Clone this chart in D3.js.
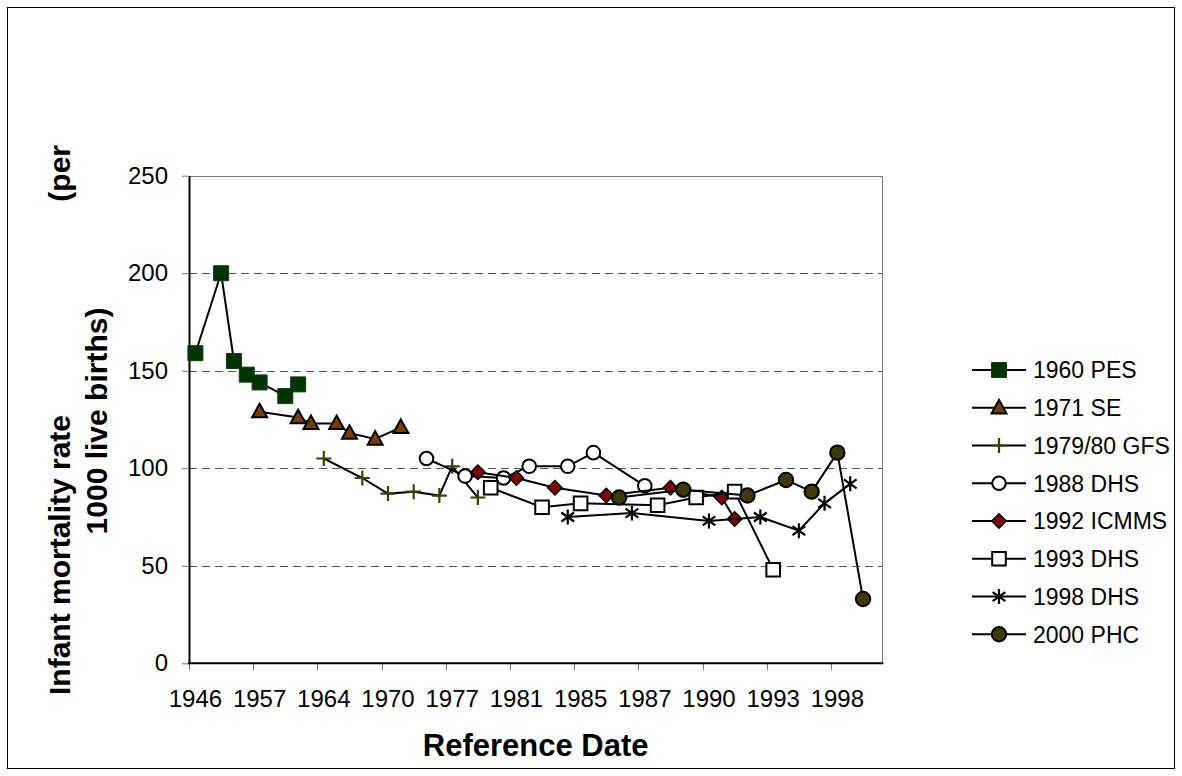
<!DOCTYPE html>
<html><head><meta charset="utf-8">
<script src="https://cdn.jsdelivr.net/npm/d3@7"></script>
<style>
body{margin:0;background:#fff}
svg{display:block}
text{font-family:"Liberation Sans",Arial,sans-serif;fill:#000}
</style>
</head><body>
<svg id="chart" width="1182" height="776"></svg>
<script>
// ---- data ----
const categoryCount = 54;
const tickLabels = ["1946","1957","1964","1970","1977","1981","1985","1987","1990","1993","1998"];
const tickLabelIndex = [0,5,10,15,20,25,30,35,40,45,50];
const yTicks = [0,50,100,150,200,250];

const seriesNames = ["1960 PES","1971 SE","1979/80 GFS","1988 DHS","1992 ICMMS","1993 DHS","1998 DHS","2000 PHC"];

const pes1960Index = [0,2,3,4,5,7,8];
const pes1960Value = [159,200,155,148,144,137,143];
const se1971Index = [5,8,9,11,12,14,16];
const se1971Value = [129,126,123,123,118,115,121];
const gfs1979Index = [10,13,15,17,19,20,22];
const gfs1979Value = [105,95,87,88,86,101,85];
const dhs1988Index = [18,21,24,26,29,31,35];
const dhs1988Value = [105,96,95,101,101,108,91];
const icmms1992Index = [22,25,28,32,37,41,42];
const icmms1992Value = [98,95,90,86,90,85,74];
const dhs1993Index = [23,27,30,36,39,42,45];
const dhs1993Value = [90,80,82,81,85,88,48];
const dhs1998Index = [29,34,40,44,47,49,51];
const dhs1998Value = [75,77,73,75,68,82,92];
const phc2000Index = [33,38,43,46,48,50,52];
const phc2000Value = [85,89,86,94,88,108,33];

const seriesIndex = [pes1960Index,se1971Index,gfs1979Index,dhs1988Index,icmms1992Index,dhs1993Index,dhs1998Index,phc2000Index];
const seriesValue = [pes1960Value,se1971Value,gfs1979Value,dhs1988Value,icmms1992Value,dhs1993Value,dhs1998Value,phc2000Value];

// ---- styles ----
const markerStyle = [
  {type:"square", fill:"#003300", stroke:"#0d3d0d", size:7.5, sw:1},
  {type:"triangle", fill:"#7a3c05", stroke:"#000", size:7.5, sw:2},
  {type:"plus", fill:"none", stroke:"#3d3d08", size:7.5, sw:2.2},
  {type:"circle", fill:"#fff", stroke:"#000", size:6.8, sw:2},
  {type:"diamond", fill:"#800000", stroke:"#000", size:7.2, sw:1.5},
  {type:"square", fill:"#fff", stroke:"#000", size:6.8, sw:2},
  {type:"star", fill:"none", stroke:"#000", size:7.5, sw:2.2},
  {type:"circle", fill:"#3a3a0a", stroke:"#000", size:7.2, sw:2}
];

function markerPath(type, h){
  switch(type){
    case "square": return `M${-h},${-h}H${h}V${h}H${-h}Z`;
    case "triangle": return `M0,${-h*1.05}L${h},${h*0.75}L${-h},${h*0.75}Z`;
    case "diamond": return `M0,${-h}L${h},0L0,${h}L${-h},0Z`;
    case "plus": return `M${-h},0H${h}M0,${-h}V${h}`;
    case "star": return `M0,${-h}V${h}M${-h*0.85},${-h*0.6}L${h*0.85},${h*0.6}M${-h*0.85},${h*0.6}L${h*0.85},${-h*0.6}`;
    case "circle": return d3.arc()({innerRadius:0,outerRadius:h,startAngle:0,endAngle:2*Math.PI});
  }
}

const svg = d3.select("#chart");
const L = 189, R = 882.3, T = 175.7, B = 663.3;

const x = d3.scaleBand().domain(d3.range(categoryCount)).range([L, R]).paddingInner(0).paddingOuter(0);
const y = d3.scaleLinear().domain([0,250]).range([B, T]);
const cx = i => x(i) + x.bandwidth()/2;

// outer border
svg.append("rect").attr("x",7.5).attr("y",7.5).attr("width",1167).attr("height",761)
  .attr("fill","none").attr("stroke","#000").attr("stroke-width",1);

// gridlines
svg.append("g").selectAll("line").data(yTicks.filter(d=>d>0 && d<250)).join("line")
  .attr("x1",L).attr("x2",R).attr("y1",d=>Math.round(y(d))+0.5).attr("y2",d=>Math.round(y(d))+0.5)
  .attr("stroke","#555").attr("stroke-width",1).attr("stroke-dasharray","8,5");

// plot border top/right
svg.append("path").attr("d",`M${L},${Math.round(T)+0.5}H${Math.round(R)+0.5}V${B}`)
  .attr("fill","none").attr("stroke","#777").attr("stroke-width",1);

// y axis
const yAxis = d3.axisLeft(y).tickValues(yTicks).tickSize(7).tickPadding(14).tickSizeOuter(0);
const gy = svg.append("g").attr("transform",`translate(${L},0)`).call(yAxis);
gy.select(".domain").attr("stroke","#000").attr("stroke-width",2);
gy.selectAll(".tick line").attr("stroke","#777");
gy.selectAll("text").attr("font-size",24).attr("font-family","Liberation Sans, Arial, sans-serif");

// x axis labels
const xAxis = d3.axisBottom(x).tickValues(tickLabelIndex).tickFormat((d,i)=>tickLabels[i]).tickSize(0).tickPadding(27).tickSizeOuter(0);
const gx = svg.append("g").attr("transform",`translate(0,${B})`).call(xAxis);
gx.select(".domain").remove();
gx.selectAll("text").attr("font-size",24).attr("font-family","Liberation Sans, Arial, sans-serif");
// x tick marks at category boundaries
svg.append("g").selectAll("line").data(tickLabelIndex).join("line")
  .attr("x1",d=>Math.round(x(d))+0.5).attr("x2",d=>Math.round(x(d))+0.5)
  .attr("y1",B).attr("y2",B+7).attr("stroke","#777").attr("stroke-width",1);
svg.append("line").attr("x1",L-1).attr("x2",R+1).attr("y1",B).attr("y2",B).attr("stroke","#000").attr("stroke-width",2);

// series
const line = d3.line().x(d=>cx(d[0])).y(d=>y(d[1]));
seriesNames.forEach((name, s)=>{
  const pts = seriesIndex[s].map((idx,k)=>[idx, seriesValue[s][k]]);
  const st = markerStyle[s];
  const g = svg.append("g");
  g.append("path").attr("d",line(pts)).attr("fill","none").attr("stroke","#000").attr("stroke-width",2);
  g.selectAll("path.m").data(pts).join("path").attr("class","m")
    .attr("transform",d=>`translate(${cx(d[0])},${y(d[1])})`)
    .attr("d",markerPath(st.type, st.size))
    .attr("fill",st.fill).attr("stroke",st.stroke).attr("stroke-width",st.sw);
});

// legend
const legendY = d3.scaleLinear().domain([0,7]).range([370,634.3]);
const lg = svg.append("g");
seriesNames.forEach((name,s)=>{
  const st = markerStyle[s];
  const yy = legendY(s);
  lg.append("line").attr("x1",972).attr("x2",1026).attr("y1",yy).attr("y2",yy).attr("stroke","#000").attr("stroke-width",2);
  lg.append("path").attr("transform",`translate(999,${yy})`).attr("d",markerPath(st.type, st.size))
    .attr("fill",st.fill).attr("stroke",st.stroke).attr("stroke-width",st.sw);
  lg.append("text").attr("x",1033).attr("y",yy).attr("dy","0.36em").attr("font-size",23).text(name);
});

// axis titles
svg.append("text").attr("x",(L+R)/2).attr("y",756).attr("text-anchor","middle")
  .attr("font-size",31).attr("font-weight","bold").text("Reference Date");

svg.append("text").attr("transform","translate(69.5,695) rotate(-90)").attr("text-anchor","start")
  .attr("font-size",30).attr("font-weight","bold").text("Infant mortality rate");
svg.append("text").attr("transform","translate(69.5,145) rotate(-90)").attr("text-anchor","end")
  .attr("font-size",30).attr("font-weight","bold").text("(per");
svg.append("text").attr("transform","translate(106.5,421) rotate(-90)").attr("text-anchor","middle")
  .attr("font-size",30).attr("font-weight","bold").text("1000 live births)");
</script>
</body></html>
